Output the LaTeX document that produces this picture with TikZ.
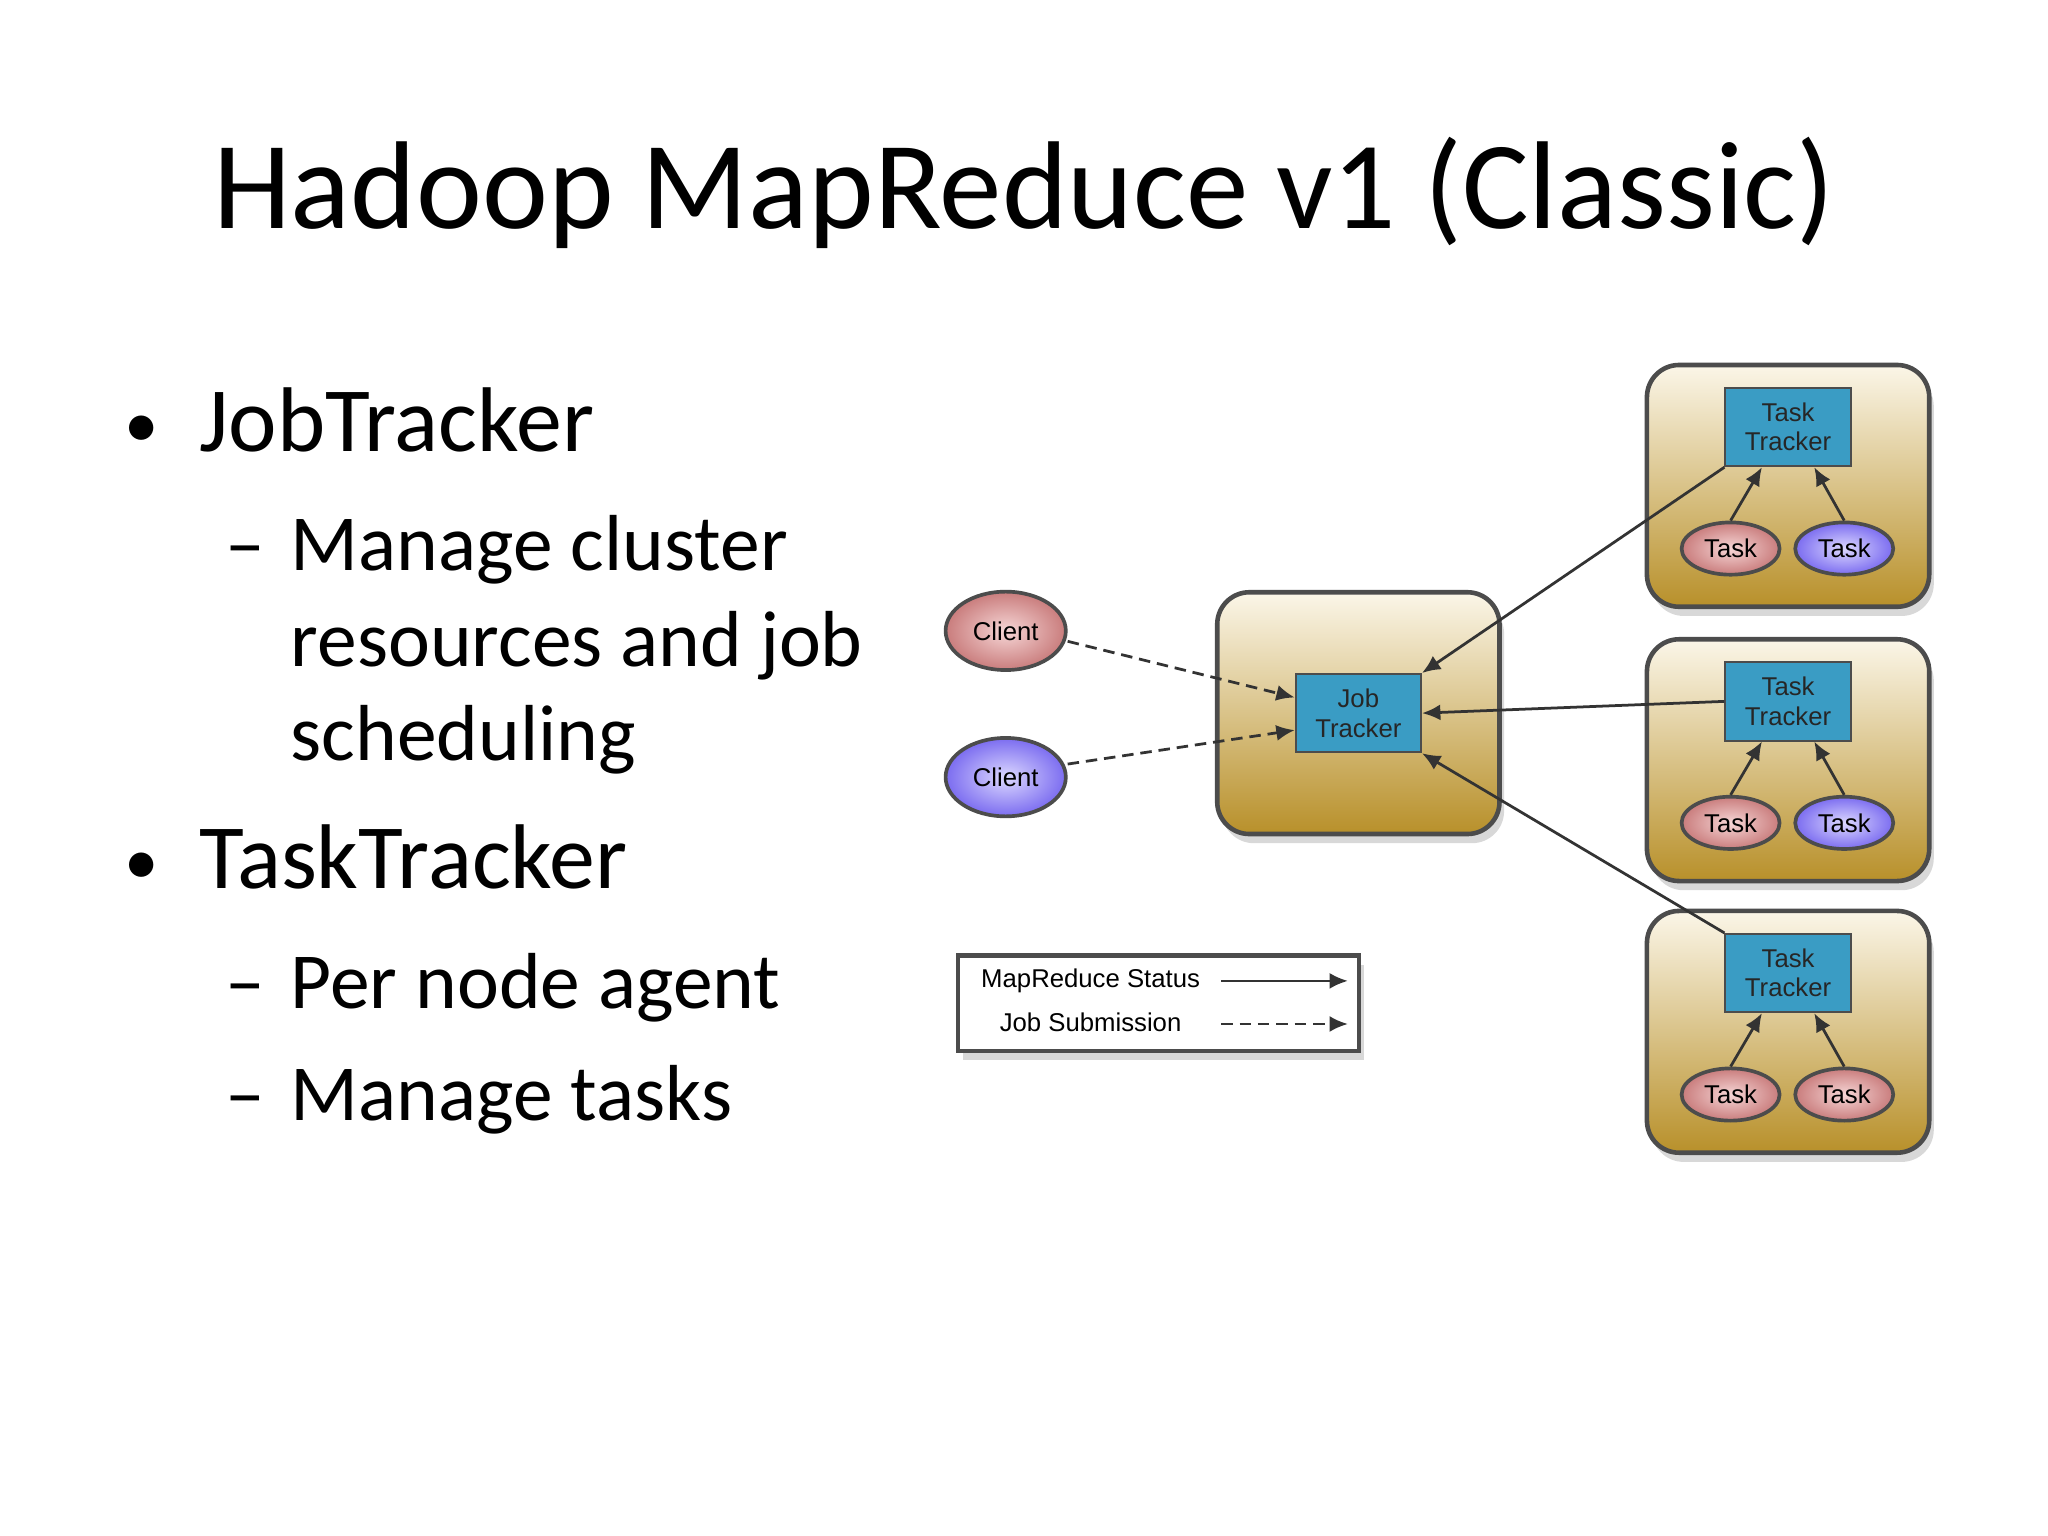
\documentclass[tikz,border=0pt]{standalone}
\usepackage{fontspec}
\setmainfont{Carlito}
\newfontfamily\dfont{Liberation Sans}
\usetikzlibrary{shapes.geometric,arrows.meta,shadows}
\definecolor{gold}{HTML}{B8902A}
\definecolor{cream}{HTML}{FBF6E8}
\definecolor{tblue}{HTML}{3A9CC4}
\definecolor{redE}{HTML}{C97C7C}
\definecolor{redL}{HTML}{F6D6D6}
\definecolor{bluE}{HTML}{7B6CF0}
\definecolor{bluL}{HTML}{DCD8FF}
\tikzset{
 hostbox/.style={draw=black!70,line width=1pt,rounded corners=7pt,top color=cream,bottom color=gold,minimum width=2.16cm,minimum height=1.85cm,drop shadow={opacity=0.3,shadow xshift=1pt,shadow yshift=-2pt}},
 trk/.style={draw=black!70,fill=tblue,minimum width=0.96cm,minimum height=0.6cm,inner sep=0pt,align=center,font=\dfont\fontsize{5.6pt}{6.4pt}\selectfont,text=black!85},
 redov/.style={ellipse,draw=black!70,line width=0.8pt,inner color=redL,outer color=redE,minimum width=0.75cm,minimum height=0.4cm,inner sep=0pt,font=\dfont\fontsize{5.6pt}{6pt}\selectfont},
 bluov/.style={ellipse,draw=black!70,line width=0.8pt,inner color=bluL,outer color=bluE,minimum width=0.75cm,minimum height=0.4cm,inner sep=0pt,font=\dfont\fontsize{5.6pt}{6pt}\selectfont},
 stat/.style={-{Latex[length=4pt,width=3.5pt]},black!80,line width=0.6pt},
 sub/.style={-{Latex[length=4pt,width=3.5pt]},black!80,dash pattern=on 2.5pt off 1.5pt,line width=0.6pt},
 bul/.style={font=\fontsize{15pt}{18pt}\selectfont},
}
\begin{document}
\begin{tikzpicture}[x=0.01cm,y=-0.01cm]
\useasboundingbox[fill=white] (0,0) rectangle (1568,1176);
\node[font=\fontsize{27.2pt}{32pt}\selectfont] (title) at (784,148) {Hadoop MapReduce v1 (Classic)};
\begin{scope}[every node/.style={anchor=base west,inner sep=0pt,font=\fontsize{17.3pt}{20pt}\selectfont}]
\node[bul] (b1d) at (95,343) {•};
\node[font=\fontsize{20pt}{24pt}\selectfont] (b1) at (152,346) {JobTracker};
\node (s1d) at (172,437) {–};
\node (s1a) at (222,437) {Manage cluster};
\node (s1b) at (222,510) {resources and job};
\node (s1c) at (222,582) {scheduling};
\node[bul] (b2d) at (95,677) {•};
\node[font=\fontsize{20pt}{24pt}\selectfont] (b2) at (152,680) {TaskTracker};
\node (s2d) at (172,772) {–};
\node (s2a) at (222,772) {Per node agent};
\node (s3d) at (172,858) {–};
\node (s3a) at (222,858) {Manage tasks};
\end{scope}
% job tracker
\node[hostbox] (jtbox) at (1040,546) {};
\node[trk] (jt) at (1040,546) {Job\\Tracker};
\node[redov,minimum width=0.92cm,minimum height=0.6cm] (c1) at (770,483) {Client};
\node[bluov,minimum width=0.92cm,minimum height=0.6cm] (c2) at (770,595) {Client};
\draw[sub] ([yshift=-0.08cm]c1.east) -- ([yshift=0.12cm]jt.west);
\draw[sub] ([yshift=0.1cm]c2.east) -- ([yshift=-0.13cm]jt.west);
% task trackers
\foreach \i/\y/\c in {1/372/bluov,2/582/bluov,3/790/redov}{
 \node[hostbox] (h\i) at (1369,\y) {};
 \node[trk] (t\i) at (1369,\y-45) {Task\\Tracker};
 \node[redov] (ta\i) at (1325,\y+48) {Task};
 \node[\c] (tb\i) at (1412,\y+48) {Task};
 \draw[stat] (ta\i.north) -- ([xshift=-0.2cm]t\i.south);
 \draw[stat] (tb\i.north) -- ([xshift=0.2cm]t\i.south);
}
\draw[stat] (t1.south west) -- (jt.north east);
\draw[stat] (t2.west) -- (jt.east);
\draw[stat] (t3.north west) -- (jt.south east);
% legend
\node[draw=black!70,line width=1pt,fill=white,minimum width=3.07cm,minimum height=0.73cm,drop shadow={opacity=0.3,shadow xshift=1pt,shadow yshift=-2pt}] (leg) at (887,768) {};
\node[font=\dfont\fontsize{5.6pt}{6pt}\selectfont] (l1) at (835,751) {MapReduce Status};
\node[font=\dfont\fontsize{5.6pt}{6pt}\selectfont] (l2) at (835,783) {Job Submission};
\coordinate (a1) at (935,751); \coordinate (a2) at (1032,751);
\coordinate (a3) at (935,784); \coordinate (a4) at (1032,784);
\draw[stat] (a1) -- (a2);
\draw[sub] (a3) -- (a4);
\end{tikzpicture}
\end{document}
